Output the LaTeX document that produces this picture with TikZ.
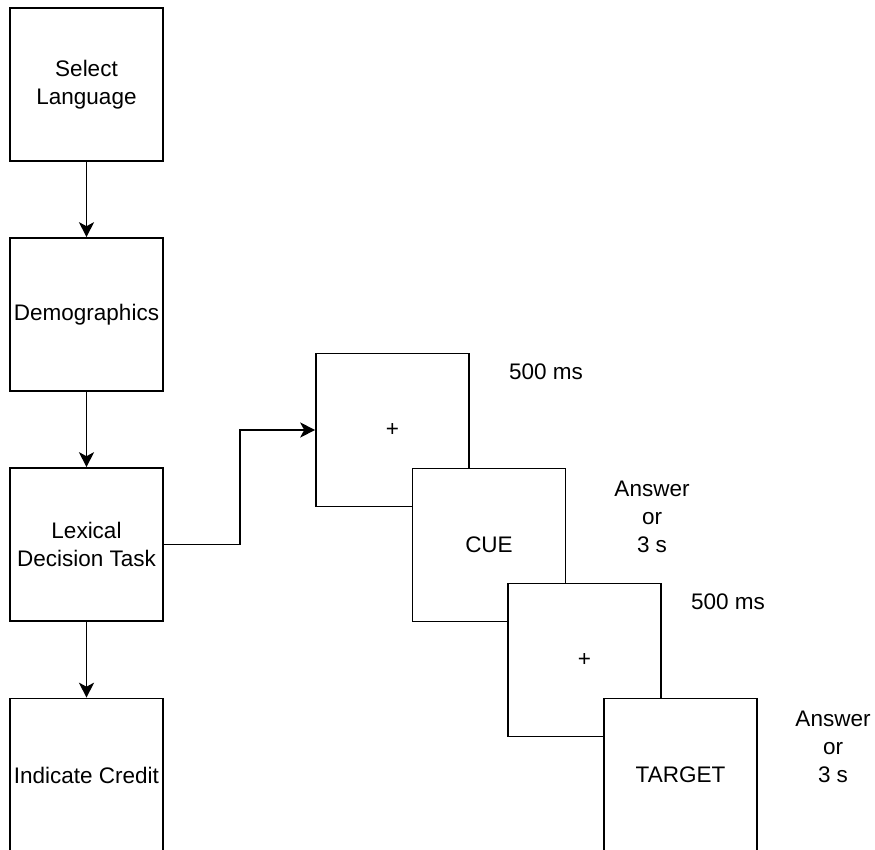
\documentclass[tikz,border=0pt]{standalone}
\usepackage{fontspec}
\setmainfont{Liberation Sans}
\usetikzlibrary{arrows.meta}

\begin{document}
\begin{tikzpicture}[x=1pt,y=-1pt,
		box/.style={shape=rectangle,draw=black,fill=white,line width=1.6pt,minimum width=153pt,minimum height=153pt,inner sep=0pt,align=center},
		lbl/.style={align=center},
		>={Stealth[length=15pt,width=15pt,inset=4pt]},
		font=\fontsize{22.5}{28}\selectfont]
		\clip (0,0) rectangle (875,850);
		% left column
		\node [box] (A1) at (86.5,84.5) {Select\\Language};
		\node [box] (A2) at (86.5,314.5) {Demographics};
		\node [box] (A3) at (86.5,544.5) {Lexical\\Decision Task};
		\node [box] (A4) at (86.5,775) {Indicate Credit};
		\draw [->,line width=1.6pt] (A1) -- (A2);
		\draw [->,line width=1.6pt] (A2) -- (A3);
		\draw [->,line width=1.6pt] (A3) -- (A4);
		% trial sequence
		\node [box] (B1) at (392.5,430) {+};
		\node [box] (B2) at (489,545) {CUE};
		\node [box] (B3) at (584.5,660) {+};
		\node [box] (B4) at (680.5,775) {TARGET};
		\draw [->,line width=1.6pt] (A3.east) -- ++(76,0) |- (B1.west);
		\node [lbl] (C1) at (546,372) {500 ms};
		\node [lbl] (C2) at (652,517) {Answer\\or\\3 s};
		\node [lbl] (C3) at (728,602) {500 ms};
		\node [lbl] (C4) at (833,747) {Answer\\or\\3 s};
	\end{tikzpicture}
\end{document}
